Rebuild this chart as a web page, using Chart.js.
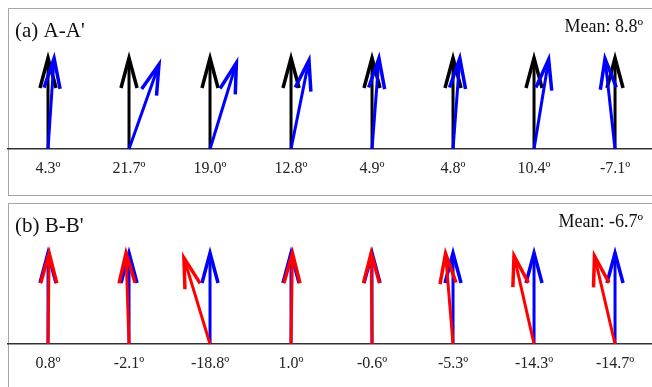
<!DOCTYPE html>
<html>
<head>
<meta charset="utf-8">
<script src="https://cdn.jsdelivr.net/npm/chart.js@4/dist/chart.umd.min.js"></script>
<style>
  html, body { margin: 0; padding: 0; background: #fff; }
  body { width: 652px; height: 387px; overflow: hidden; position: relative; }
  .panel { position: absolute; left: 0; width: 652px; height: 195px; }
  .box { position: absolute; left: 8px; top: 8px; width: 700px; height: 186px; border: 1px solid #a6a6a6; }
  canvas { position: absolute; left: 0; top: 0; }
</style>
</head>
<body>
<div class="panel" style="top:0px"><div class="box"></div><canvas id="cA" width="652" height="195"></canvas></div>
<div class="panel" style="top:195px"><div class="box"></div><canvas id="cB" width="652" height="195"></canvas></div>
<script>
// ---- data ----
const refAnglesA = [0, 0, 0, 0, 0, 0, 0, 0];
const anglesA = [4.3, 21.7, 19.0, 12.8, 4.9, 4.8, 10.4, -7.1];
const tickLabelsA = ['4.3º', '21.7º', '19.0º', '12.8º', '4.9º', '4.8º', '10.4º', '-7.1º'];
const titleA = "(a) A-A'";
const meanA = 'Mean: 8.8º';

const refAnglesB = [0, 0, 0, 0, 0, 0, 0, 0];
const anglesB = [0.8, -2.1, -18.8, 1.0, -0.6, -5.3, -14.3, -14.7];
const tickLabelsB = ['0.8º', '-2.1º', '-18.8º', '1.0º', '-0.6º', '-5.3º', '-14.3º', '-14.7º'];
const titleB = "(b) B-B'";
const meanB = 'Mean: -6.7º';

// ---- arrow geometry (data units) ----
const HEAD_LEN = 0.345;
const HEAD_ANG = 16.7 * Math.PI / 180;

function arrowDatasets(angles, color) {
  const ds = [];
  angles.forEach((a, i) => {
    const t = a * Math.PI / 180;
    const tip = { x: i + Math.sin(t), y: Math.cos(t) };
    const w1 = { x: tip.x - HEAD_LEN * Math.sin(t - HEAD_ANG), y: tip.y - HEAD_LEN * Math.cos(t - HEAD_ANG) };
    const w2 = { x: tip.x - HEAD_LEN * Math.sin(t + HEAD_ANG), y: tip.y - HEAD_LEN * Math.cos(t + HEAD_ANG) };
    const common = { borderColor: color, backgroundColor: color, showLine: true, pointRadius: 0,
      pointHoverRadius: 0, fill: false, tension: 0, clip: false, borderCapStyle: 'butt', borderJoinStyle: 'miter' };
    ds.push(Object.assign({ data: [{ x: i, y: 0 }, tip], borderWidth: 3 }, common));
    ds.push(Object.assign({ data: [w1, tip, w2], borderWidth: 3.5 }, common));
  });
  return ds;
}

const textPlugin = {
  id: 'panelText',
  afterDraw(chart, args, opts) {
    const ctx = chart.ctx;
    ctx.save();
    ctx.fillStyle = '#111';
    ctx.textBaseline = 'alphabetic';
    ctx.font = '21px "Liberation Serif"';
    ctx.textAlign = 'left';
    ctx.fillText(opts.title, 15, 37);
    ctx.font = '18px "Liberation Serif"';
    ctx.textAlign = 'right';
    ctx.fillText(opts.mean, 643, 32);
    ctx.restore();
  }
};

function makeChart(id, topAngles, topColor, refAngles, refColor, labels, title, mean) {
  // first datasets are drawn on top
  const datasets = arrowDatasets(topAngles, topColor).concat(arrowDatasets(refAngles, refColor));
  return new Chart(document.getElementById(id), {
    type: 'scatter',
    data: { datasets },
    options: {
      responsive: false,
      animation: false,
      devicePixelRatio: 1,
      layout: { padding: { left: 8, right: 1, top: 58, bottom: 6.8 } },
      plugins: { legend: { display: false }, tooltip: { enabled: false }, panelText: { title, mean } },
      events: [],
      scales: {
        x: {
          type: 'linear', min: -0.494, max: 7.444,
          afterBuildTicks: (axis) => { axis.ticks = labels.map((_, i) => ({ value: i })); },
          grid: { display: false, drawTicks: false },
          border: { display: true, color: '#333', width: 1.5 },
          ticks: {
            autoSkip: false, maxRotation: 0, padding: 10, color: '#222',
            font: { family: '"Liberation Serif"', size: 16 },
            callback: (v) => labels[v] !== undefined ? labels[v] : ''
          }
        },
        y: { type: 'linear', min: 0, max: 1, display: false }
      }
    },
    plugins: [textPlugin]
  });
}

makeChart('cA', anglesA, '#0000ff', refAnglesA, '#000000', tickLabelsA, titleA, meanA);
makeChart('cB', anglesB, '#ff0000', refAnglesB, '#0000ff', tickLabelsB, titleB, meanB);
</script>
</body>
</html>
